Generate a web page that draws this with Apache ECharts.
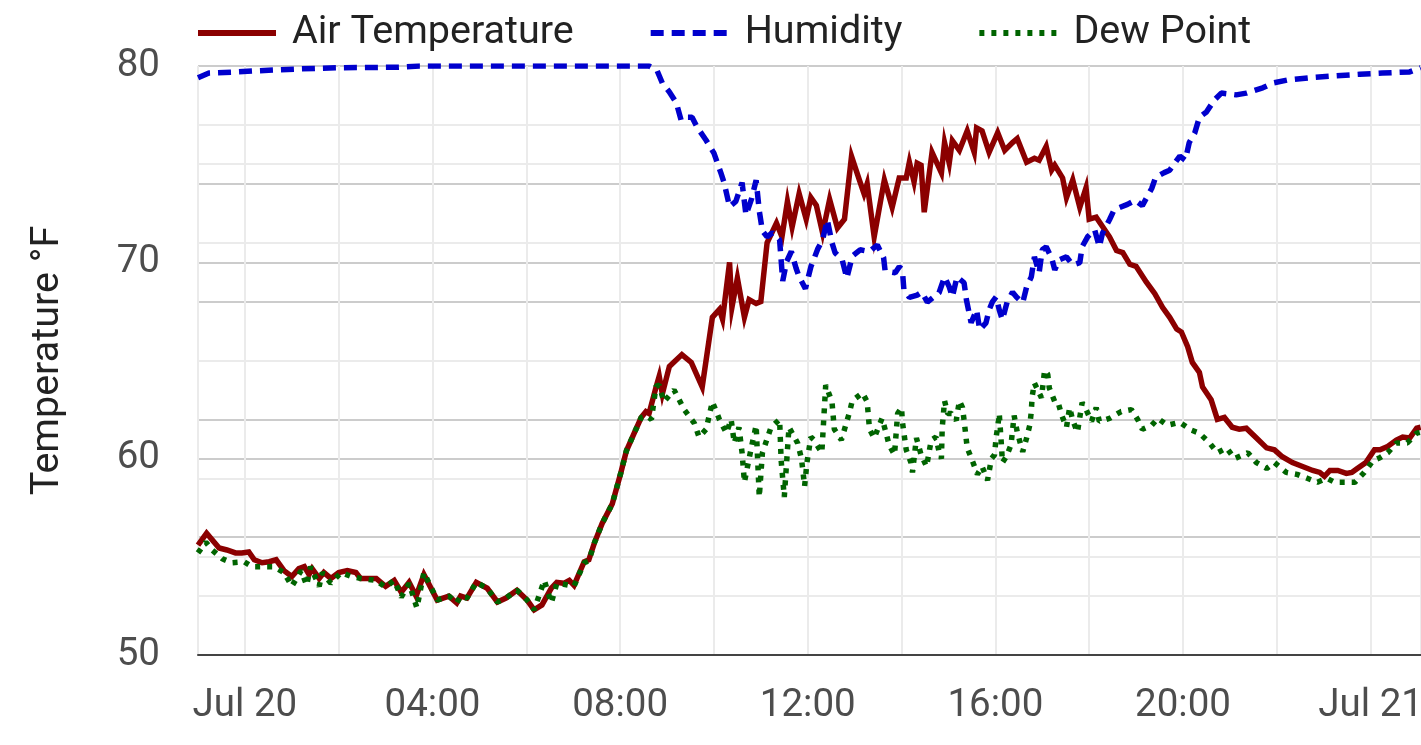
<!DOCTYPE html>
<html>
<head>
<meta charset="utf-8">
<script src="https://cdn.jsdelivr.net/npm/echarts@6/dist/echarts.min.js"></script>
<style>
html,body{margin:0;padding:0;background:#fff;}
#chart{width:1421px;height:745px;}
</style>
</head>
<body>
<div id="chart"></div>
<script>
// minutes relative to Jul 20 00:00, value
const airTemp = [[-60,55.6],[-49,56.2],[-33,55.45],[-23,55.35],[-12,55.2],[-4,55.2],[5,55.25],[12,54.85],[22,54.7],[31,54.75],[40,54.85],[50,54.3],[60,54.0],[69,54.4],[76,54.5],[82,54.1],[86,54.4],[95,53.9],[101,54.2],[110,53.9],[120,54.2],[131,54.3],[142,54.2],[148,53.9],[168,53.9],[180,53.5],[191,53.8],[200,53.2],[210,53.7],[219,53.0],[229,54.1],[246,52.8],[261,53.0],[271,52.65],[276,53.0],[284,52.9],[296,53.7],[310,53.4],[323,52.7],[334,52.9],[348,53.3],[361,52.8],[370,52.3],[380,52.55],[392,53.4],[399,53.7],[408,53.65],[415,53.8],[421,53.55],[434,54.75],[440,54.85],[447,55.7],[457,56.7],[470,57.7],[481,59.3],[488,60.4],[498,61.3],[507,62.1],[513,62.4],[517,62.3],[526,63.65],[530,64.2],[534,63.3],[543,64.7],[559,65.3],[571,64.9],[585,63.65],[598,67.2],[607,67.6],[611,67.1],[620,70.0],[623,67.7],[630,69.2],[639,67.2],[645,68.1],[654,67.9],[660,68.0],[668,71.0],[680,72.0],[687,71.3],[694,73.1],[700,71.8],[709,73.5],[718,72.2],[724,73.3],[731,72.9],[739,71.5],[748,73.2],[758,71.75],[767,72.2],[776,75.4],[786,74.2],[792,73.5],[796,74.0],[805,71.3],[818,74.2],[828,72.8],[837,74.3],[846,74.3],[850,75.1],[856,74.1],[860,75.05],[865,74.95],[869,72.55],[879,75.6],[891,74.55],[895,76.1],[901,75.05],[905,76.2],[914,75.7],[924,76.7],[933,75.6],[936,76.85],[943,76.7],[952,75.6],[963,76.6],[972,75.7],[982,76.1],[988,76.3],[1000,75.1],[1010,75.3],[1016,75.2],[1025,75.9],[1032,74.7],[1036,74.95],[1046,74.3],[1051,73.3],[1059,74.2],[1068,72.8],[1076,73.8],[1080,72.2],[1089,72.3],[1106,71.3],[1115,70.6],[1123,70.5],[1132,69.9],[1140,69.8],[1153,69.0],[1164,68.4],[1174,67.7],[1183,67.2],[1192,66.6],[1198,66.45],[1206,65.7],[1212,64.9],[1221,64.4],[1225,63.65],[1236,63.0],[1244,62.0],[1253,62.1],[1263,61.6],[1272,61.5],[1281,61.55],[1294,61.05],[1307,60.55],[1317,60.45],[1327,60.1],[1340,59.8],[1353,59.6],[1366,59.4],[1375,59.3],[1381,59.1],[1388,59.4],[1398,59.4],[1409,59.25],[1416,59.3],[1423,59.5],[1434,59.8],[1445,60.45],[1452,60.45],[1461,60.6],[1473,60.95],[1481,61.1],[1490,61.05],[1499,61.55],[1504,61.6]];

const humidity = [[-60,98.0],[-46,98.8],[-8,99.0],[18,99.2],[69,99.5],[120,99.7],[197,99.8],[223,100],[517,100],[527,99.3],[534,97.1],[543,95.6],[552,93.7],[558,90.8],[564,91.3],[572,91.3],[579,89.5],[590,87.4],[600,85.2],[609,81.8],[613,80.2],[620,76.1],[628,77.0],[636,80.2],[641,74.7],[648,77.4],[654,80.6],[658,75.4],[662,72.0],[668,71.0],[675,71.7],[684,70.5],[688,63.5],[693,66.8],[699,68.5],[705,65.7],[709,64.2],[717,62.2],[724,65.9],[733,69.0],[739,70.5],[745,73.9],[751,70.0],[755,68.3],[764,67.1],[770,64.0],[777,67.7],[787,68.8],[799,68.5],[809,69.6],[817,67.5],[819,65.2],[832,64.9],[837,65.9],[841,65.5],[843,62.0],[850,60.7],[860,61.1],[866,61.6],[873,59.9],[888,61.5],[895,64.2],[901,62.5],[905,60.8],[911,64.2],[920,63.2],[923,60.3],[929,56.4],[936,58.6],[940,55.2],[948,56.4],[952,58.6],[956,59.9],[961,60.8],[965,58.6],[969,56.9],[975,59.9],[982,61.6],[987,60.8],[995,59.8],[1000,62.5],[1006,64.2],[1010,67.6],[1016,64.9],[1020,68.8],[1025,69.3],[1032,67.4],[1036,65.4],[1042,67.1],[1051,67.6],[1059,66.2],[1068,66.6],[1071,69.3],[1078,71.0],[1087,72.2],[1093,69.3],[1097,71.6],[1106,73.9],[1112,75.6],[1129,76.5],[1139,77.2],[1148,76.3],[1160,79.2],[1165,81.1],[1176,81.9],[1183,82.3],[1196,84.7],[1203,84.0],[1208,87.0],[1215,88.6],[1221,91.3],[1230,92.2],[1240,94.2],[1249,95.4],[1268,95.1],[1281,95.4],[1302,96.3],[1315,97.1],[1333,97.6],[1362,98.0],[1391,98.3],[1426,98.6],[1455,98.8],[1490,99.0],[1504,99.7]];

const dewPoint = [[-60,55.2],[-50,55.75],[-42,55.35],[-29,54.9],[-17,54.7],[-1,54.75],[9,54.5],[24,54.5],[37,54.5],[50,54.2],[60,53.5],[72,54.3],[79,53.55],[84,54.5],[95,53.5],[99,54.2],[110,53.65],[123,54.2],[136,54.0],[148,53.9],[168,53.8],[180,53.45],[191,53.8],[200,52.95],[210,53.65],[220,52.4],[229,54.2],[246,52.8],[261,53.0],[271,52.65],[276,53.0],[284,52.9],[296,53.7],[310,53.4],[323,52.7],[334,52.9],[348,53.3],[361,52.8],[370,52.3],[383,53.8],[392,52.65],[399,53.65],[408,53.6],[421,53.5],[434,54.7],[440,54.8],[447,55.7],[457,56.7],[470,57.7],[481,59.3],[488,60.4],[498,61.3],[507,62.1],[513,62.2],[520,62.0],[526,63.7],[530,63.75],[536,62.9],[549,63.5],[562,62.5],[575,61.8],[581,61.1],[590,61.5],[598,62.9],[607,62.0],[616,61.3],[622,62.0],[626,60.8],[632,61.6],[636,60.3],[639,58.8],[648,60.6],[654,61.7],[658,58.05],[662,60.3],[673,61.6],[684,62.0],[686,59.9],[690,58.05],[696,61.6],[707,60.8],[712,60.0],[716,58.6],[719,59.8],[724,61.1],[728,60.95],[738,60.3],[743,63.75],[751,62.9],[754,61.5],[763,60.95],[773,62.3],[777,62.95],[790,63.35],[796,62.9],[799,61.5],[805,61.05],[815,62.05],[820,61.35],[824,60.7],[831,60.2],[835,62.3],[840,62.6],[841,61.9],[846,60.45],[852,59.8],[854,59.3],[859,61.05],[865,60.2],[872,59.6],[878,60.95],[884,61.1],[888,60.35],[891,60.0],[892,61.55],[895,62.95],[899,62.3],[904,62.3],[910,61.95],[914,62.95],[918,62.6],[920,61.95],[924,60.55],[931,59.85],[937,59.2],[943,59.6],[950,58.9],[955,60.0],[959,60.2],[961,61.1],[963,61.6],[965,62.3],[968,60.55],[969,59.8],[974,60.1],[980,60.7],[984,62.2],[988,61.35],[995,60.35],[1000,61.05],[1004,61.7],[1006,62.4],[1007,63.15],[1010,63.85],[1019,63.1],[1023,64.5],[1027,64.3],[1029,63.6],[1036,62.9],[1040,62.9],[1045,62.2],[1051,61.6],[1055,62.6],[1059,61.95],[1065,61.35],[1071,62.85],[1076,62.5],[1083,61.9],[1089,62.6],[1093,61.9],[1106,62.05],[1121,62.4],[1134,62.5],[1142,62.0],[1148,61.5],[1160,61.7],[1168,62.05],[1180,61.7],[1196,61.85],[1211,61.45],[1221,61.3],[1234,60.8],[1244,60.3],[1256,60.55],[1266,60.0],[1283,60.3],[1294,59.8],[1307,59.5],[1317,59.8],[1332,59.3],[1346,59.2],[1359,59.0],[1372,58.8],[1384,59.0],[1394,58.8],[1407,58.8],[1420,58.8],[1432,59.3],[1443,59.9],[1452,60.05],[1462,60.3],[1473,60.8],[1487,60.8],[1499,61.3],[1504,61.35]];

const seriesNames = ['Air Temperature', 'Humidity', 'Dew Point'];
const tempTicks = [50, 60, 70, 80];

const BASE = Date.UTC(2024, 6, 20);
const MIN = 60000;
const toTime = arr => arr.map(p => [BASE + p[0] * MIN, p[1]]);
const MONTHS = ['Jan','Feb','Mar','Apr','May','Jun','Jul','Aug','Sep','Oct','Nov','Dec'];

const chart = echarts.init(document.getElementById('chart'));
const FONT = 'Roboto';
chart.setOption({
  animation: false,
  backgroundColor: '#ffffff',
  textStyle: { fontFamily: FONT },
  legend: {
    left: 190, top: 8,
    itemWidth: 78, itemHeight: 14, itemGap: 74,
    itemStyle: { opacity: 0 },
    lineStyle: { width: 6 },
    textStyle: { fontFamily: FONT, fontSize: 39.5, color: '#222222', padding: [0, 0, 0, 11] },
    data: seriesNames
  },
  grid: { left: 198, right: 0, top: 66, bottom: 90, containLabel: false, outerBoundsMode: 'none' },
  xAxis: {
    type: 'time',
    min: BASE - 60 * MIN,
    max: BASE + 1504.5 * MIN,
    minInterval: 2.5 * 3600000,
    maxInterval: 2.5 * 3600000,
    axisLine: { show: true, lineStyle: { color: '#444444', width: 2 } },
    axisTick: { show: false },
    splitLine: { show: true, lineStyle: { color: '#ebebeb', width: 2 } },
    axisLabel: {
      fontFamily: FONT, fontSize: 38.5, color: '#4d4d4d', margin: 32,
      showMinLabel: false, showMaxLabel: false, hideOverlap: false,
      formatter: function (v) {
        const d = new Date(v);
        const h = d.getUTCHours(), m = d.getUTCMinutes();
        if (m !== 0 || h % 4 !== 0) return '';
        if (h === 0) return MONTHS[d.getUTCMonth()] + ' ' + d.getUTCDate();
        return (h < 10 ? '0' : '') + h + ':00';
      }
    }
  },
  yAxis: [{
    type: 'value', min: tempTicks[0], max: tempTicks[tempTicks.length - 1], interval: 10,
    name: 'Temperature °F', nameLocation: 'middle', nameGap: 130,
    nameTextStyle: { fontFamily: FONT, fontSize: 39.5, color: '#222222' },
    axisLine: { show: false }, axisTick: { show: false },
    axisLabel: { fontFamily: FONT, fontSize: 38.5, color: '#4d4d4d', margin: 38 },
    splitLine: { show: true, lineStyle: { color: '#cccccc', width: 2 } },
    minorTick: { show: false, splitNumber: 2 },
    minorSplitLine: { show: true, lineStyle: { color: '#ebebeb', width: 2 } }
  }, {
    type: 'value', min: 0, max: 100, interval: 20, position: 'right',
    axisLine: { show: false }, axisTick: { show: false },
    axisLabel: { show: false },
    splitLine: { show: true, lineStyle: { color: '#cccccc', width: 2 } },
    minorTick: { show: false, splitNumber: 2 },
    minorSplitLine: { show: true, lineStyle: { color: '#ebebeb', width: 2 } }
  }],
  series: [{
    name: seriesNames[0], type: 'line', yAxisIndex: 0, showSymbol: false, symbol: 'none',
    data: toTime(airTemp), color: '#8b0000',
    lineStyle: { color: '#8b0000', width: 5.5, join: 'miter' }
  }, {
    name: seriesNames[1], type: 'line', yAxisIndex: 1, showSymbol: false, symbol: 'none',
    data: toTime(humidity), color: '#0000cd',
    lineStyle: { color: '#0000cd', width: 5.5, type: [13, 8] }
  }, {
    name: seriesNames[2], type: 'line', yAxisIndex: 0, showSymbol: false, symbol: 'none',
    data: toTime(dewPoint), color: '#006400',
    lineStyle: { color: '#006400', width: 5.5, type: [5, 7] }
  }]
});
</script>
</body>
</html>
